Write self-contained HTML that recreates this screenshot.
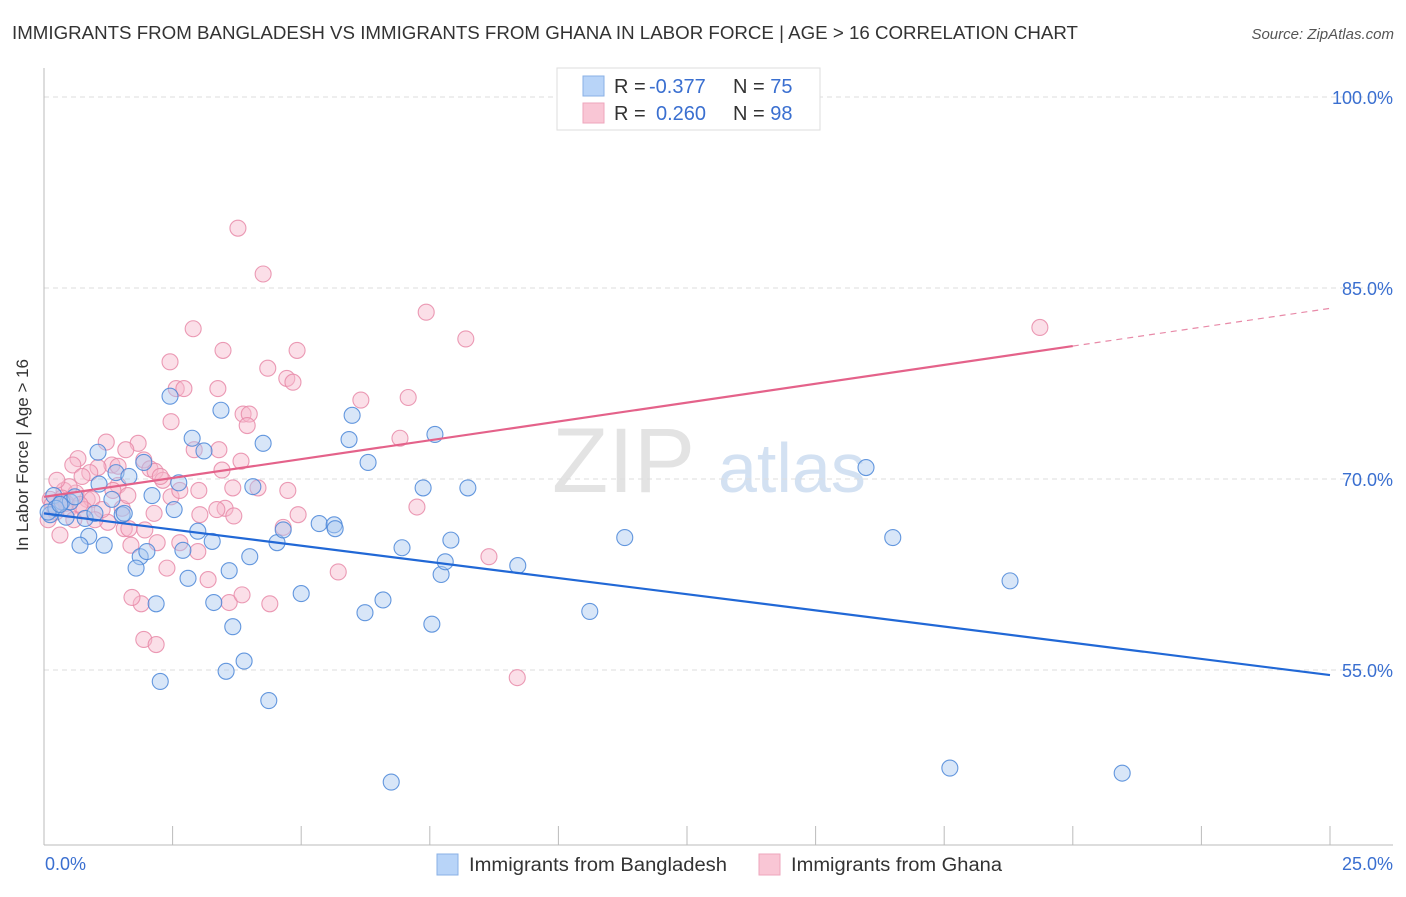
<!DOCTYPE html>
<html><head><meta charset="utf-8"><style>
body{margin:0;background:#fff;font-family:"Liberation Sans",sans-serif;}
svg text{font-family:"Liberation Sans",sans-serif;}
</style></head><body>
<svg id="chart" width="1406" height="892" xmlns="http://www.w3.org/2000/svg">
<text x="12" y="39" font-size="18" fill="#333" textLength="1066" lengthAdjust="spacingAndGlyphs">IMMIGRANTS FROM BANGLADESH VS IMMIGRANTS FROM GHANA IN LABOR FORCE | AGE &gt; 16 CORRELATION CHART</text>
<text x="1394" y="39" font-size="15" fill="#555" font-style="italic" text-anchor="end">Source: ZipAtlas.com</text>
<g><text x="552" y="492" font-size="92" fill="#ddd" font-family="Liberation Serif" opacity="0.8">ZIP</text><text x="718" y="492" font-size="70" fill="#c9daf0" opacity="0.8">atlas</text></g>
<g id="grid"></g>
<g id="axes"></g>
<g id="pts"></g>
<g id="trend"></g>
<text x="28" y="455" font-size="17" fill="#333" transform="rotate(-90 28 455)" text-anchor="middle">In Labor Force | Age &gt; 16</text>
<g>
<rect x="557" y="68" width="263" height="62" fill="#fff" stroke="#ddd"/>
<rect x="583" y="76" width="21" height="20" fill="#b8d4f8" stroke="#8ab0e6"/>
<rect x="583" y="103" width="21" height="20" fill="#f9c6d5" stroke="#eea6bc"/>
<text x="614" y="93" font-size="20" fill="#333">R = <tspan x="649" fill="#3a6fd0">-0.377</tspan><tspan x="733">N = </tspan><tspan fill="#3a6fd0">75</tspan></text>
<text x="614" y="120" font-size="20" fill="#333">R = <tspan x="656" fill="#3a6fd0">0.260</tspan><tspan x="733">N = </tspan><tspan fill="#3a6fd0">98</tspan></text>
</g>
<g>
<rect x="437" y="854" width="21" height="21" fill="#b8d4f8" stroke="#8ab0e6"/>
<text x="469" y="871" font-size="19" fill="#333" textLength="258" lengthAdjust="spacingAndGlyphs">Immigrants from Bangladesh</text>
<rect x="759" y="854" width="21" height="21" fill="#f9c6d5" stroke="#eea6bc"/>
<text x="791" y="871" font-size="19" fill="#333" textLength="211" lengthAdjust="spacingAndGlyphs">Immigrants from Ghana</text>
</g>
</svg>
<script>
const yTicks=[100,85,70,55];
const yTickLabels=["100.0%","85.0%","70.0%","55.0%"];
const xTickLabels=["0.0%","25.0%"];
const blueX=[2.45,3.44,2.88,3.11,4.26,5.99,5.93,6.30,7.60,1.05,1.40,1.65,1.94,2.62,2.10,2.53,1.52,1.07,0.87,0.70,1.17,1.87,1.79,2.00,2.70,2.80,2.99,3.27,3.60,3.30,2.18,3.67,2.26,3.54,3.89,4.37,4.00,4.53,4.06,4.65,5.00,5.35,5.64,5.66,6.24,6.59,6.96,7.37,7.72,7.54,7.80,7.91,8.24,9.21,10.61,11.29,15.98,16.50,18.78,17.61,20.96,6.75,0.19,0.35,0.51,0.12,0.23,0.43,0.08,0.80,1.32,1.56,0.31,0.60,0.99];
const blueY=[76.5,75.4,73.2,72.2,72.8,75.0,73.1,71.3,73.5,72.1,70.5,70.2,71.3,69.7,68.7,67.6,67.2,69.6,65.5,64.8,64.8,63.9,63.0,64.3,64.4,62.2,65.9,65.1,62.8,60.3,60.2,58.4,54.1,54.9,55.7,52.6,63.9,65.0,69.4,66.0,61.0,66.5,66.4,66.1,59.5,60.5,64.6,69.3,62.5,58.6,63.5,65.2,69.3,63.2,59.6,65.4,70.9,65.4,62.0,47.3,46.9,46.2,68.7,68.2,68.2,67.2,67.7,67.0,67.4,66.9,68.4,67.3,68.0,68.6,67.3];
const pinkX=[3.77,4.26,2.90,7.43,8.20,19.36,3.48,2.45,4.92,4.35,2.57,2.72,3.38,4.72,4.84,6.16,7.08,3.87,3.99,3.95,2.47,6.92,2.92,3.40,1.21,1.83,1.59,1.94,0.66,0.56,1.32,1.44,1.05,0.89,0.74,2.06,2.16,2.31,2.26,3.83,3.46,4.16,4.74,3.01,3.67,2.47,2.64,3.52,3.69,3.36,2.14,3.03,4.94,7.25,1.52,1.24,1.56,1.65,1.96,1.69,2.20,2.64,2.99,3.19,2.39,3.60,3.85,4.39,1.89,1.71,1.94,2.18,8.65,9.20,5.72,4.65,0.84,0.39,0.62,0.47,0.23,0.08,0.93,1.13,0.31,0.49,0.25,0.12,1.44,1.63,0.99,1.34,0.58,0.35,0.78,0.16,0.43,0.70];
const pinkY=[89.7,86.1,81.8,83.1,81.0,81.9,80.1,79.2,80.1,78.7,77.1,77.1,77.1,77.9,77.6,76.2,76.4,75.1,75.1,74.2,74.5,73.2,72.3,72.3,72.9,72.8,72.3,71.5,71.6,71.1,71.1,71.0,70.9,70.5,70.2,70.8,70.6,69.9,70.2,71.4,70.7,69.3,69.1,69.1,69.3,68.6,69.1,67.7,67.1,67.6,67.3,67.2,67.2,67.8,67.7,66.6,66.1,66.1,66.0,64.8,65.0,65.0,64.3,62.1,63.0,60.3,60.9,60.2,60.2,60.7,57.4,57.0,63.9,54.4,62.7,66.2,68.4,69.1,68.9,67.6,67.4,66.8,68.4,67.6,65.6,69.4,69.9,68.4,69.5,68.7,66.8,69.1,66.8,68.5,67.6,68.0,68.1,68.0];
const blueTrend=[67.3,54.6];
const pinkTrend=[68.6,83.4];
const pinkSolidEnd=20;
const X0=44,X1=1330,Y100=97,PX15=191;
const xs=v=>X0+(v/25)*(X1-X0);
const ys=v=>Y100+(100-v)/15*PX15;
const NS="http://www.w3.org/2000/svg";
function mk(tag,attrs,parent){const e=document.createElementNS(NS,tag);for(const k in attrs)e.setAttribute(k,attrs[k]);parent.appendChild(e);return e;}
const grid=document.getElementById('grid'),axes=document.getElementById('axes'),pts=document.getElementById('pts'),trend=document.getElementById('trend'),svg=document.getElementById('chart');
yTicks.forEach((t,i)=>{
 const l=mk('line',{x1:44,x2:1393,y1:ys(t),y2:ys(t),stroke:'#ddd','stroke-dasharray':'5,4'},grid);
 
 
 const tx=mk('text',{x:1393,y:ys(t)+7,'font-size':18,fill:'#3a6fd0','text-anchor':'end'},svg);
 tx.textContent=yTickLabels[i];
 
 
});
const ya=mk('line',{x1:44,x2:44,y1:68,y2:845,stroke:'#bbb'},axes);


const xa=mk('line',{x1:44,x2:1393,y1:845,y2:845,stroke:'#bbb'},axes);


for(let i=1;i<=10;i++){
 const tk=mk('line',{x1:xs(i*2.5),x2:xs(i*2.5),y1:826,y2:845,stroke:'#bbb'},axes);
 
 
}
const xl0=mk('text',{x:45,y:870,'font-size':18,fill:'#3a6fd0'},svg);xl0.textContent=xTickLabels[0];


const xl1=mk('text',{x:1393,y:870,'font-size':18,fill:'#3a6fd0','text-anchor':'end'},svg);xl1.textContent=xTickLabels[1];


function drawPts(X,Y,fill,stroke,name){X.forEach((x,i)=>{const c=mk('circle',{cx:xs(x),cy:ys(Y[i]),r:8,fill:fill,'fill-opacity':0.45,stroke:stroke,'stroke-width':1.1,'stroke-opacity':0.85},pts);
 
 });}
drawPts(pinkX,pinkY,'#f7b8cb','#e88aa8','point-ghana');
drawPts(blueX,blueY,'#a8c8f0','#4a86d8','point-bangladesh');
const bl=mk('line',{x1:xs(0),y1:ys(blueTrend[0]),x2:xs(25),y2:ys(blueTrend[1]),stroke:'#2168d6','stroke-width':2.2},trend);


const pm=pinkTrend[0]+(pinkTrend[1]-pinkTrend[0])*pinkSolidEnd/25;
const pl=mk('line',{x1:xs(0),y1:ys(pinkTrend[0]),x2:xs(pinkSolidEnd),y2:ys(pm),stroke:'#e4628a','stroke-width':2.2},trend);


const pd=mk('line',{x1:xs(pinkSolidEnd),y1:ys(pm),x2:xs(25),y2:ys(pinkTrend[1]),stroke:'#e88aa8','stroke-width':1.2,'stroke-dasharray':'6,5'},trend);


</script>
</body></html>
